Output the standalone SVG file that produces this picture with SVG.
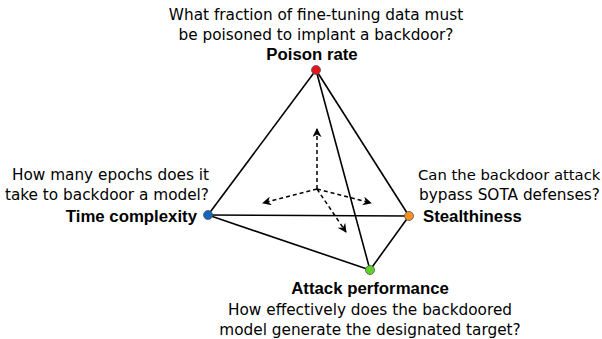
<svg xmlns="http://www.w3.org/2000/svg" width="602" height="339" viewBox="0 0 602 339">
<defs>
<marker id="ah" viewBox="0 0 10 10" refX="9" refY="5" markerWidth="9" markerHeight="9" markerUnits="userSpaceOnUse" orient="auto">
<path d="M0,0 L10,5 L0,10 L3,5 Z" fill="#000"/>
</marker>
</defs>
<style>
.t{font-family:"Comic Sans MS","DejaVu Sans",sans-serif;font-size:15.3px;fill:#000}
.s{font-size:14.8px}
.b{font-family:"Liberation Sans",Arial,sans-serif;font-weight:bold;font-size:16.8px}
.e{stroke:#000;stroke-width:1.6;fill:none}
.d{stroke:#000;stroke-width:1.5;stroke-dasharray:4,3;fill:none;marker-end:url(#ah)}
.n{stroke:#555;stroke-width:0.8}
</style>
<rect width="602" height="339" fill="#fff"/>
<g id="connectors">
<line class="e" x1="316" y1="70" x2="208" y2="215"/>
<line class="e" x1="316" y1="70" x2="409" y2="216"/>
<line class="e" x1="316" y1="70" x2="370" y2="270"/>
<line class="e" x1="208" y1="215" x2="409" y2="216"/>
<line class="e" x1="208" y1="215" x2="370" y2="270"/>
<line class="e" x1="409" y1="216" x2="370" y2="270"/>
<line class="d" x1="317" y1="189" x2="317" y2="129"/>
<line class="d" x1="317" y1="189" x2="263" y2="203"/>
<line class="d" x1="317" y1="189" x2="371" y2="203"/>
<line class="d" x1="317" y1="189" x2="346" y2="232"/>
</g>
<g id="poison">
<circle class="n" cx="316" cy="70" r="4.5" fill="#e8141b"/>
<text class="t" x="316" y="20" text-anchor="middle">What fraction of fine-tuning data must</text>
<text class="t" x="316" y="40" text-anchor="middle">be poisoned to implant a backdoor?</text>
<text class="t b" x="312" y="60" text-anchor="middle">Poison rate</text>
</g>
<g id="time">
<circle class="n" cx="208" cy="215" r="4.5" fill="#1565c0"/>
<text class="t" x="209" y="180" text-anchor="end">How many epochs does it</text>
<text class="t" x="209" y="200" text-anchor="end">take to backdoor a model?</text>
<text class="t b" x="197" y="222" text-anchor="end">Time complexity</text>
</g>
<g id="stealth">
<circle class="n" cx="409" cy="216" r="4.5" fill="#f5901e"/>
<text class="t s" x="418" y="180">Can the backdoor attack</text>
<text class="t" x="419" y="200">bypass SOTA defenses?</text>
<text class="t b" x="423" y="222">Stealthiness</text>
</g>
<g id="attack">
<circle class="n" cx="370" cy="270" r="4.5" fill="#5fd02a"/>
<text class="t b" x="370" y="294" text-anchor="middle">Attack performance</text>
<text class="t" x="370" y="315" text-anchor="middle">How effectively does the backdoored</text>
<text class="t" x="370" y="335" text-anchor="middle">model generate the designated target?</text>
</g>
</svg>
